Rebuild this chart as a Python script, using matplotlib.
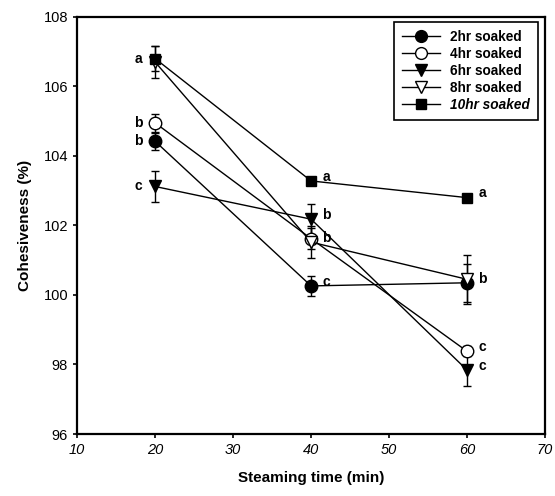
import matplotlib.pyplot as plt
from matplotlib.lines import Line2D

plt.rcParams['font.family'] = ['Liberation Sans', 'DejaVu Sans']

# steaming time (min) and cohesiveness (%) for each soaking time
time = [20, 40, 60]

soak_2 = [104.42, 100.26, 100.35]
soak_2_err = [0.25, 0.28, 0.55]
soak_2_lab = ['b', 'c', 'b']

soak_4 = [104.95, 101.62, 98.38]
soak_4_err = [0.25, 0.3, 0.15]
soak_4_lab = ['b', '', 'c']

soak_6 = [103.12, 102.18, 97.84]
soak_6_err = [0.46, 0.45, 0.46]
soak_6_lab = ['c', 'b', 'c']

soak_8 = [106.7, 101.52, 100.45]
soak_8_err = [0.46, 0.46, 0.7]
soak_8_lab = ['', 'b', '']

soak_10 = [106.8, 103.28, 102.8]
soak_10_err = [0.35, 0.12, 0.08]
soak_10_lab = ['a', 'a', 'a']

fig = plt.figure(figsize=(5.55, 4.96), dpi=100)
ax = fig.add_axes([0.139, 0.125, 0.843, 0.841])

series = [
    (soak_2, soak_2_err, soak_2_lab, 'o', 'black', 9, '2hr soaked'),
    (soak_4, soak_4_err, soak_4_lab, 'o', 'white', 9, '4hr soaked'),
    (soak_6, soak_6_err, soak_6_lab, 'v', 'black', 9, '6hr soaked'),
    (soak_8, soak_8_err, soak_8_lab, 'v', 'white', 9, '8hr soaked'),
    (soak_10, soak_10_err, soak_10_lab, 's', 'black', 7.5, '10hr soaked'),
]

handles = []
for y, e, labs, mk, fc, ms, name in series:
    ax.errorbar(time, y, yerr=e, color='black', lw=1, marker=mk, ms=ms,
                mfc=fc, mec='black', mew=1, capsize=3, elinewidth=1)
    handles.append(Line2D([], [], color='black', lw=1, marker=mk, ms=ms - 0.5,
                          mfc=fc, mec='black', mew=1, label=name))

# letter labels: left of the 20 min points, right of the others
for y, e, labs, mk, fc, ms, name in series:
    for t, v, lab in zip(time, y, labs):
        if not lab:
            continue
        if t == 20:
            ax.annotate(lab, (t, v), xytext=(-9, 0), textcoords='offset points',
                        ha='right', va='center', fontsize=10, fontweight='bold')
        else:
            ax.annotate(lab, (t, v), xytext=(8, 3), textcoords='offset points',
                        ha='left', va='center', fontsize=10, fontweight='bold')

ax.set_xlim(10, 70)
ax.set_ylim(96, 108)
ax.set_xticks(range(10, 71, 10))
ax.set_yticks(range(96, 109, 2))
ax.tick_params(direction='out', length=3, width=1.2, labelsize=10.5)
for lab in ax.get_xticklabels():
    lab.set_fontstyle('italic')
for sp in ax.spines.values():
    sp.set_linewidth(1.6)

ax.set_xlabel('Steaming time (min)', fontsize=11, fontweight='bold', labelpad=10)
ax.set_ylabel('Cohesiveness (%)', fontsize=11, fontweight='bold', labelpad=8)

leg = ax.legend(handles=handles, loc='upper right', bbox_to_anchor=(0.99, 0.995),
                borderaxespad=0.2, fancybox=False, edgecolor='black',
                framealpha=1, fontsize=9.8, handlelength=2.8, labelspacing=0.22,
                borderpad=0.6, handletextpad=0.7)
leg.get_frame().set_linewidth(1.2)
for txt in leg.get_texts():
    txt.set_fontweight('bold')
leg.get_texts()[-1].set_fontstyle('italic')

fig.savefig('out.png', dpi=100)
